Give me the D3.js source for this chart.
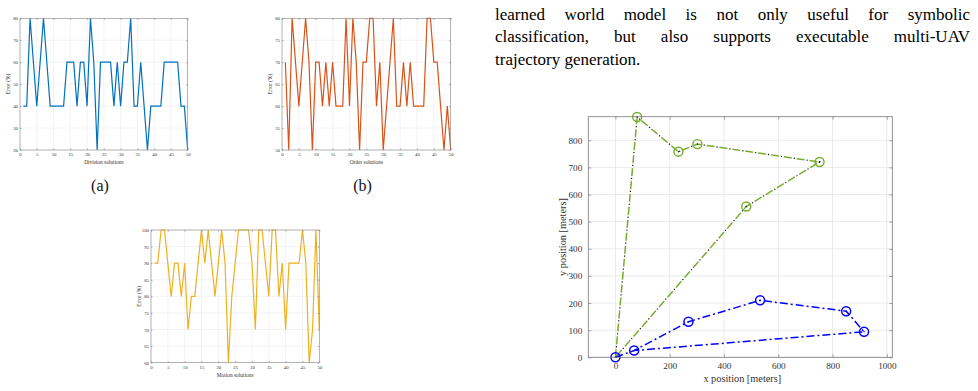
<!DOCTYPE html>
<html>
<head>
<meta charset="UTF-8">
<script src="https://d3js.org/d3.v7.min.js"></script>
<style>
  body { margin: 0; background: #fff; }
  #page { position: relative; width: 978px; height: 391px; overflow: hidden; }
  #para { position: absolute; left: 495px; top: 0px; width: 475px;
          font-family: "Liberation Serif", "Times New Roman", serif; font-size: 17px; color: #000; }
  #para div { position: absolute; left: 0; width: 475px; line-height: 22px; white-space: nowrap; }
  #para div.just { text-align: justify; text-align-last: justify; white-space: normal; }
  svg { position: absolute; left: 0; top: 0; }
</style>
</head>
<body>
<div id="page">
  <div id="chart"></div>
  <div id="para"></div>
</div>
<script>
// paragraph lines
var paraLines = [
  "learned world model is not only useful for symbolic",
  "classification, but also supports executable multi-UAV",
  "trajectory generation."
];

// subplot data (error % per solution index 1..50)
var solutionIdx = d3.range(1, 51);
var divisionErr = [40,40,80,60,40,60,80,60,40,40,40,40,40,60,60,60,40,60,60,40,
                   80,60,20,60,60,60,60,40,60,40,60,60,80,40,40,60,40,20,40,40,
                   40,40,60,60,60,60,60,40,40,20];
var orderErr = [70,50,80,70,60,70,80,70,50,70,70,60,70,60,70,60,60,60,80,60,
                80,70,50,70,70,80,80,60,70,50,60,70,80,60,60,70,60,70,60,60,
                60,60,80,80,70,70,60,50,60,50];
var motionErr = [90,90,100,100,90,80,90,90,80,90,70,80,80,90,100,90,100,90,80,90,
                 100,90,60,80,90,100,100,100,100,90,70,100,100,90,80,100,100,80,90,70,
                 90,90,90,90,100,90,60,70,100,70];
var smallXTicks = [0,5,10,15,20,25,30,35,40,45,50];
var divisionTicks = [20,30,40,50,60,70,80];
var orderTicks = [50,55,60,65,70,75,80];
var motionTicks = [60,65,70,75,80,85,90,95,100];

// trajectory data (meters)
var greenX = [0, 80, 232, 302, 752, 482, 0];
var greenY = [0, 886, 758, 786, 720, 556, 0];
var blueX = [0, 69, 269, 533, 850, 916, 69];
var blueY = [0, 25, 131, 210, 170, 94, 25];
var trajXTicks = [0,200,400,600,800,1000];
var trajYTicks = [0,100,200,300,400,500,600,700,800];

var serif = '"Liberation Serif", "Times New Roman", serif';

d3.select("#para").selectAll("div")
    .data(paraLines)
    .join("div")
    .attr("class", (d, i) => i < paraLines.length - 1 ? "just" : null)
    .style("top", (d, i) => (4 + i * 22.4) + "px")
    .text(d => d);

var svg = d3.select("#chart").append("svg")
    .attr("width", 978)
    .attr("height", 391);

function styleAxis(sel, size, col) {
    sel.select(".domain").remove();
    sel.attr("font-family", serif);
    sel.selectAll("line").attr("stroke", col).attr("stroke-width", 0.6);
    sel.selectAll("text").attr("font-family", serif).attr("font-size", size).attr("fill", "#333");
}

function smallChart(c) {
    var x = d3.scaleLinear().domain([0, 50]).range([c.left, c.right]);
    var y = d3.scaleLinear().domain(c.yDomain).range([c.bottom, c.top]);
    var g = svg.append("g");

    g.selectAll(".gx").data(smallXTicks).join("line")
        .attr("x1", d => x(d)).attr("x2", d => x(d))
        .attr("y1", c.top).attr("y2", c.bottom)
        .attr("stroke", "#ebebeb").attr("stroke-width", 0.6);
    g.selectAll(".gy").data(c.yTicks).join("line")
        .attr("x1", c.left).attr("x2", c.right)
        .attr("y1", d => y(d)).attr("y2", d => y(d))
        .attr("stroke", "#ebebeb").attr("stroke-width", 0.6);

    g.append("path")
        .datum(c.values)
        .attr("fill", "none")
        .attr("stroke", c.color)
        .attr("stroke-width", 1.2)
        .attr("d", d3.line().x((d, i) => x(solutionIdx[i])).y(d => y(d)));

    g.append("g").attr("transform", "translate(0," + c.bottom + ")")
        .call(d3.axisBottom(x).tickValues(smallXTicks).tickSize(-1.5).tickPadding(2.5))
        .call(a => styleAxis(a, 4.8, "#777"));
    g.append("g").attr("transform", "translate(" + c.left + ",0)")
        .call(d3.axisLeft(y).tickValues(c.yTicks).tickSize(-1.5).tickPadding(2))
        .call(a => styleAxis(a, 4.8, "#777"));
    g.append("g").attr("transform", "translate(0," + c.top + ")")
        .call(d3.axisTop(x).tickValues(smallXTicks).tickSize(-1.5).tickFormat(""))
        .call(a => styleAxis(a, 4.8, "#777"));
    g.append("g").attr("transform", "translate(" + c.right + ",0)")
        .call(d3.axisRight(y).tickValues(c.yTicks).tickSize(-1.5).tickFormat(""))
        .call(a => styleAxis(a, 4.8, "#777"));

    g.append("rect")
        .attr("x", c.left).attr("y", c.top)
        .attr("width", c.right - c.left).attr("height", c.bottom - c.top)
        .attr("fill", "none").attr("stroke", "#8a8a8a").attr("stroke-width", 0.6);

    g.append("text")
        .attr("x", (c.left + c.right) / 2).attr("y", c.bottom + 14)
        .attr("text-anchor", "middle")
        .attr("font-family", serif).attr("font-size", 5.4).attr("fill", "#333")
        .text(c.xLabel);
    g.append("text")
        .attr("transform", "translate(" + (c.left - 10.5) + "," + ((c.top + c.bottom) / 2) + ") rotate(-90)")
        .attr("text-anchor", "middle")
        .attr("font-family", serif).attr("font-size", 5.4).attr("fill", "#333")
        .text("Error (%)");

    if (c.caption) {
        svg.append("text")
            .attr("x", c.capX).attr("y", c.capY)
            .attr("text-anchor", "middle")
            .attr("font-family", serif).attr("font-size", 16).attr("fill", "#111")
            .text(c.caption);
    }
}

smallChart({ left: 20, right: 187.7, top: 18.3, bottom: 150, yDomain: [20, 80], yTicks: divisionTicks,
             values: divisionErr, color: "#0072BD", xLabel: "Division solutions", caption: "(a)", capX: 100, capY: 191 });
smallChart({ left: 282, right: 450.7, top: 18.3, bottom: 150, yDomain: [50, 80], yTicks: orderTicks,
             values: orderErr, color: "#D95319", xLabel: "Order solutions", caption: "(b)", capX: 362.5, capY: 191 });
smallChart({ left: 151, right: 319.3, top: 230, bottom: 362.7, yDomain: [60, 100], yTicks: motionTicks,
             values: motionErr, color: "#EDB120", xLabel: "Motion solutions" });

// trajectory plot
(function () {
    var left = 588.3, right = 892.3, top = 116.7, bottom = 357.3;
    var x = d3.scaleLinear().domain([-100, 1020]).range([left, right]);
    var y = d3.scaleLinear().domain([0, 887]).range([bottom, top]);
    var g = svg.append("g");

    g.selectAll(".gx").data(trajXTicks).join("line")
        .attr("x1", d => x(d)).attr("x2", d => x(d))
        .attr("y1", top).attr("y2", bottom)
        .attr("stroke", "#e6e6e6").attr("stroke-width", 0.8);
    g.selectAll(".gy").data(trajYTicks).join("line")
        .attr("x1", left).attr("x2", right)
        .attr("y1", d => y(d)).attr("y2", d => y(d))
        .attr("stroke", "#e6e6e6").attr("stroke-width", 0.8);

    var line = d3.line().x(d => x(d[0])).y(d => y(d[1]));
    var green = greenX.map((v, i) => [v, greenY[i]]);
    var blue = blueX.map((v, i) => [v, blueY[i]]);

    g.append("path").datum(green).attr("d", line)
        .attr("fill", "none").attr("stroke", "#77AC30").attr("stroke-width", 1.5)
        .attr("stroke-dasharray", "8,5");
    g.append("path").datum(green).attr("d", line)
        .attr("fill", "none").attr("stroke", "#111").attr("stroke-width", 1.2)
        .attr("stroke-dasharray", "0,10,1.2,1.8");

    g.append("path").datum(blue).attr("d", line)
        .attr("fill", "none").attr("stroke", "#0000FF").attr("stroke-width", 1.5)
        .attr("stroke-dasharray", "8,3,2,3");

    var gPts = green.slice(1, 6);
    var bPts = blue.slice(0, 6);
    g.selectAll(".gm").data(gPts).join("circle")
        .attr("cx", d => x(d[0])).attr("cy", d => y(d[1])).attr("r", 4.5)
        .attr("fill", "none").attr("stroke", "#77AC30").attr("stroke-width", 1.4);
    g.selectAll(".gd").data(gPts).join("circle")
        .attr("cx", d => x(d[0])).attr("cy", d => y(d[1])).attr("r", 0.7).attr("fill", "#111");
    g.selectAll(".bm").data(bPts).join("circle")
        .attr("cx", d => x(d[0])).attr("cy", d => y(d[1])).attr("r", 4.5)
        .attr("fill", "none").attr("stroke", "#0000FF").attr("stroke-width", 1.5);
    g.selectAll(".bd").data(bPts).join("circle")
        .attr("cx", d => x(d[0])).attr("cy", d => y(d[1])).attr("r", 0.7).attr("fill", "#0000FF");

    g.append("g").attr("transform", "translate(0," + bottom + ")")
        .call(d3.axisBottom(x).tickValues(trajXTicks).tickFormat(d3.format("d")).tickSize(-3).tickPadding(5))
        .call(a => styleAxis(a, 9.2, "#666"));
    g.append("g").attr("transform", "translate(" + left + ",0)")
        .call(d3.axisLeft(y).tickValues(trajYTicks).tickFormat(d3.format("d")).tickSize(-3).tickPadding(6))
        .call(a => styleAxis(a, 9.2, "#666"));
    g.append("g").attr("transform", "translate(0," + top + ")")
        .call(d3.axisTop(x).tickValues(trajXTicks).tickSize(-3).tickFormat(""))
        .call(a => styleAxis(a, 9.2, "#666"));
    g.append("g").attr("transform", "translate(" + right + ",0)")
        .call(d3.axisRight(y).tickValues(trajYTicks).tickSize(-3).tickFormat(""))
        .call(a => styleAxis(a, 9.2, "#666"));

    g.append("rect")
        .attr("x", left).attr("y", top)
        .attr("width", right - left).attr("height", bottom - top)
        .attr("fill", "none").attr("stroke", "#7a7a7a").attr("stroke-width", 0.8);

    g.append("text")
        .attr("x", (left + right) / 2 + 2).attr("y", 382)
        .attr("text-anchor", "middle")
        .attr("font-family", serif).attr("font-size", 10.3).attr("fill", "#333")
        .text("x position [meters]");
    g.append("text")
        .attr("transform", "translate(566," + ((top + bottom) / 2) + ") rotate(-90)")
        .attr("text-anchor", "middle")
        .attr("font-family", serif).attr("font-size", 10.3).attr("fill", "#333")
        .text("y position [meters]");
})();
</script>
</body>
</html>
